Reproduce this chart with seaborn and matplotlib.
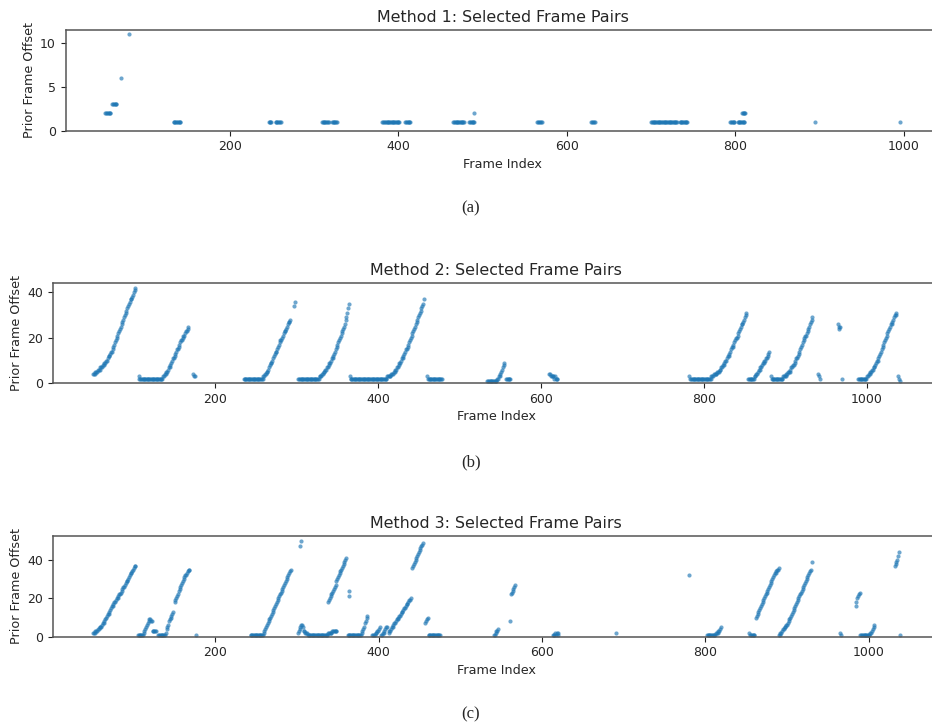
import matplotlib
matplotlib.use("Agg")
import matplotlib.pyplot as plt
import seaborn as sns
import pandas as pd

# ---------------- data ----------------
titles = ["Method 1: Selected Frame Pairs",
          "Method 2: Selected Frame Pairs",
          "Method 3: Selected Frame Pairs"]
captions = ["(a)", "(b)", "(c)"]
x_label = "Frame Index"
y_label = "Prior Frame Offset"
x_ticks = [200, 400, 600, 800, 1000]
y_ticks = [[0, 5, 10], [0, 20, 40], [0, 20, 40]]

# Method 1: runs of consecutive selected frames (first frame, last frame, offset)
m1_run_first = [52, 60, 70, 80, 133, 246, 254, 309, 321, 381, 408, 465, 484, 490,
                565, 629, 700, 734, 794, 803, 808, 895, 996]
m1_run_last = [58, 65, 70, 80, 141, 249, 260, 317, 327, 401, 414, 478, 490, 490,
               570, 633, 731, 743, 799, 811, 812, 895, 996]
m1_run_offset = [2, 3, 6, 11, 1, 1, 1, 1, 1, 1, 1, 1, 1, 2,
                 1, 1, 1, 1, 1, 1, 2, 1, 1]

# Method 2: segments of consecutive frames (first frame, offset of each frame)
m2_seg_first = [50, 106, 173, 235, 297, 302, 365, 460, 534, 557, 610, 782, 854,
                882, 940, 964, 969, 989, 1038]
m2_seg_offsets = [
    [4, 4, 4, 5, 5, 5, 6, 6, 6, 7, 7, 7, 8, 8, 9, 9, 10, 10, 11, 12, 12, 13, 14, 14,
     15, 16, 17, 18, 19, 20, 21, 22, 23, 24, 25, 26, 27, 28, 29, 30, 31, 32, 33, 34,
     35, 36, 37, 37, 38, 39, 40, 41, 42],
    [3] + [2] * 29 + [3, 3, 4, 4, 5, 5, 6, 7, 7, 8, 9, 10, 11, 11, 12, 13, 14, 15, 15,
                      16, 17, 18, 19, 19, 20, 21, 21, 22, 23, 23, 24, 25],
    [4, 3, 3],
    [2] * 24 + [3, 3, 4, 4, 5, 5, 6, 7, 8, 9, 9, 10, 11, 12, 13, 14, 14, 15, 16, 17,
                18, 19, 19, 20, 21, 22, 23, 23, 24, 25, 26, 27, 27, 28],
    [34, 36],
    [2] * 26 + [3, 3, 3, 4, 4, 5, 5, 6, 6, 7, 7, 8, 9, 9, 10, 11, 11, 12, 13, 14, 15,
                16, 17, 18, 19, 20, 21, 22, 23, 24, 25, 26, 28, 29, 31, 33, 35],
    [3] + [2] * 45 + [3, 3, 3, 3, 3, 4, 4, 4, 5, 5, 6, 6, 7, 7, 8, 9, 9, 10, 11, 11,
                      12, 13, 14, 15, 15, 16, 17, 18, 19, 20, 21, 22, 23, 24, 25, 26,
                      27, 28, 29, 30, 31, 32, 33, 34, 35, 37],
    [3] + [2] * 18,
    [1] * 12 + [2, 2, 3, 3, 4, 5, 6, 7, 8, 9],
    [2] * 6,
    [4, 4, 3, 3, 3, 3, 2, 3, 2, 2, 2],
    [3] + [2] * 26 + [3, 3, 3, 4, 4, 4, 4, 5, 5, 5, 6, 6, 7, 7, 8, 8, 9, 10, 10, 11,
                      12, 12, 13, 14, 15, 16, 16, 17, 18, 19, 20, 20, 21, 22, 23, 24,
                      25, 26, 26, 27, 28, 29, 30, 31],
    [2] * 8 + [3, 3, 4, 4, 5, 6, 6, 7, 7, 8, 9, 9, 10, 10, 11, 11, 12, 13, 14],
    [3] + [2] * 14 + [3, 3, 3, 3, 4, 4, 5, 5, 5, 6, 7, 7, 8, 8, 9, 10, 11, 11, 12, 13,
                      14, 15, 16, 17, 18, 19, 20, 21, 21, 22, 23, 24, 25, 26, 27, 28, 29],
    [4, 3, 2],
    [26, 25, 24, 25],
    [2],
    [2] * 11 + [3, 3, 4, 4, 5, 5, 6, 6, 7, 7, 8, 9, 10, 10, 11, 12, 13, 14, 15, 16, 17,
                18, 19, 20, 21, 22, 23, 24, 25, 26, 26, 27, 28, 29, 30, 30, 31],
    [3, 2, 1],
]

# Method 3: segments of consecutive frames (first frame, offset of each frame)
m3_seg_first = [50, 105, 130, 150, 176, 243, 304, 305, 301, 338, 363, 363, 362, 392,
                403, 412, 441, 457, 461, 541, 561, 562, 613, 691, 780, 802, 854, 862,
                890, 930, 965, 984, 990, 1032, 1038]
m3_seg_offsets = [
    [2, 2, 2, 3, 3, 3, 4, 4, 5, 5, 5, 6, 7, 7, 8, 9, 10, 11, 12, 12, 13, 14, 15, 16,
     16, 17, 18, 18, 19, 20, 20, 21, 22, 22, 23, 24, 25, 26, 26, 27, 28, 29, 29, 30,
     31, 32, 33, 33, 34, 35, 36, 37, 37],
    [1] * 7 + [2, 3, 4, 5, 6, 7, 8, 9, 9, 8, 8, 3, 3, 3, 3, 3],
    [1] * 9 + [2, 4, 5, 6, 8, 9, 10, 11, 12, 13],
    [18, 19, 20, 21, 22, 24, 25, 26, 27, 28, 29, 30, 31, 32, 32, 33, 34, 35, 35],
    [1],
    [1] * 16 + [2, 3, 4, 5, 6, 7, 8, 9, 10, 11, 12, 13, 14, 15, 16, 17, 18, 19, 20,
                21, 22, 23, 24, 25, 26, 27, 28, 29, 30, 31, 32, 33, 34, 35],
    [47],
    [50],
    [2, 3, 4, 5, 6, 6, 5, 3, 3, 2, 2, 2] + [1] * 25 + [2, 2, 2, 2, 2, 3, 3, 3, 3, 3, 3],
    [18, 19, 20, 21, 22, 23, 24, 25, 26, 27, 29, 30, 31, 32, 33, 34, 35, 36, 37, 38,
     39, 40, 41],
    [21],
    [24],
    [1] * 17 + [2, 3, 4, 5, 7, 8, 10, 11],
    [1, 1, 1, 1, 2, 2, 3, 3, 4, 5],
    [1, 1, 2, 2, 3, 4, 5, 5],
    [2, 3, 3, 4, 5, 5, 6, 7, 7, 8, 9, 9, 10, 11, 11, 12, 13, 13, 14, 15, 15, 16, 17,
     17, 18, 19, 19, 20],
    [36, 37, 38, 39, 40, 41, 42, 43, 44, 45, 46, 47, 48, 49],
    [7, 8, 9, 10],
    [1] * 15,
    [1, 1, 2, 3, 3, 4],
    [8],
    [22, 23, 24, 25, 26, 27],
    [1, 1, 1, 2, 1, 2, 1, 2],
    [2],
    [32],
    [1] * 11 + [2, 2, 2, 3, 3, 4, 5],
    [2, 1, 1, 1, 1, 1, 1],
    [10, 11, 12, 13, 14, 15, 16, 17, 18, 19, 20, 21, 22, 23, 24, 25, 26, 27, 28, 29,
     30, 31, 32, 33, 33, 34, 35, 35, 36],
    [1, 1, 2, 2, 3, 4, 4, 5, 5, 6, 6, 7, 8, 9, 10, 11, 12, 13, 14, 15, 16, 17, 18, 19,
     20, 21, 22, 23, 24, 25, 26, 27, 28, 29, 30, 31, 32, 33, 34],
    [35, 39],
    [2, 1],
    [16, 18, 20, 21, 22, 23],
    [1] * 12 + [2, 2, 3, 4, 5, 6],
    [37, 38, 39, 40, 42, 44],
    [1],
]


# ---------------- build tables ----------------
def runs_to_frame(firsts, lasts, offs):
    rows = []
    for f, l, o in zip(firsts, lasts, offs):
        for fr in range(f, l + 1):
            rows.append((fr, o))
    return pd.DataFrame(rows, columns=["frame", "offset"])


def segs_to_frame(firsts, offs_list):
    rows = []
    for f, offs in zip(firsts, offs_list):
        for i, o in enumerate(offs):
            rows.append((f + i, o))
    return pd.DataFrame(rows, columns=["frame", "offset"])


tables = [
    runs_to_frame(m1_run_first, m1_run_last, m1_run_offset),
    segs_to_frame(m2_seg_first, m2_seg_offsets),
    segs_to_frame(m3_seg_first, m3_seg_offsets),
]

# ---------------- plot ----------------
sns.set_style("ticks")
plt.rcParams["font.family"] = ["DejaVu Sans"]

W, H = 932, 726
fig = plt.figure(figsize=(W / 100, H / 100), dpi=100)

# axes boxes in pixels: (left, top, bottom); right edge runs past the figure
boxes = [(65.7, 30.0, 130.7), (52.7, 283.3, 383.3), (52.7, 536.0, 636.7)]
right_px = 940.0
caption_y = [208, 462, 714]

for i, (df, (l, t, b)) in enumerate(zip(tables, boxes)):
    ax = fig.add_axes([l / W, 1 - b / H, (right_px - l) / W, (b - t) / H])
    sns.scatterplot(data=df, x="frame", y="offset", ax=ax, s=9,
                    color="#1f77b4", alpha=0.65, linewidth=0)
    ax.set_ylim(bottom=0)
    ax.set_xticks(x_ticks)
    ax.set_yticks(y_ticks[i])
    ax.set_title(titles[i], fontsize=11.4, pad=6)
    ax.set_xlabel(x_label, fontsize=9.2, labelpad=3)
    ax.set_ylabel(y_label, fontsize=9.2, labelpad=3)
    ax.tick_params(labelsize=9, length=3.5, width=0.8, color="#222222")
    for side in ["left", "top", "bottom"]:
        ax.spines[side].set_visible(True)
        ax.spines[side].set_color("#555555")
        ax.spines[side].set_linewidth(1.1)
    ax.spines["right"].set_visible(False)
    fig.text(471 / W, 1 - caption_y[i] / H, captions[i], ha="center", va="center",
             fontsize=12, family=["Liberation Serif", "DejaVu Serif"])

fig.savefig("out.png", dpi=100)
